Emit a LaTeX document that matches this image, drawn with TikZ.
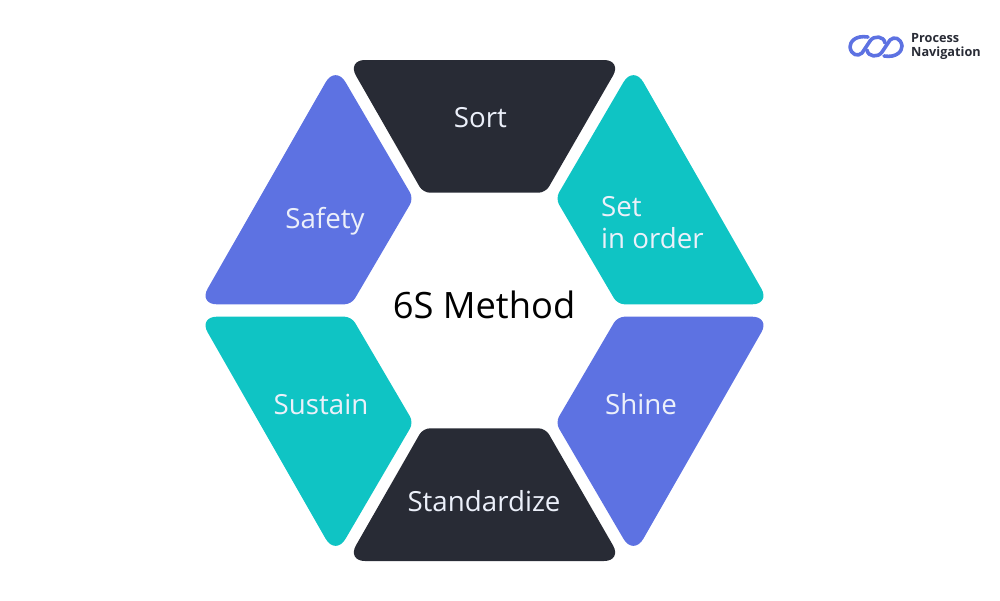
\documentclass[tikz,border=0pt]{standalone}
\usepackage{fontspec}
\setmainfont{Open Sans}
\definecolor{darkpanel}{HTML}{282B35}
\definecolor{bluepanel}{HTML}{5D72E2}
\definecolor{tealpanel}{HTML}{0FC4C4}
\definecolor{paneltext}{HTML}{ECF0FA}
\tikzset{
  paneltxt/.style={text=paneltext,font=\fontsize{27.7}{32}\selectfont,inner sep=0pt},
  logoline/.style={draw=bluepanel,line width=3.6pt,line cap=round,line join=round}
}
\begin{document}
\begin{tikzpicture}[x=1pt,y=-1pt]
\useasboundingbox (0,0) rectangle (1000,600);
% panels
\fill[darkpanel] (347,60) [rounded corners=18pt] -- (622,60) [rounded corners=7pt] -- (545.5,192.7) -- (423,192.7) [rounded corners=18pt] -- cycle;
\fill[darkpanel] (347,561) [rounded corners=18pt] -- (622,561) [rounded corners=7pt] -- (545.5,428.3) -- (423,428.3) [rounded corners=18pt] -- cycle;
\fill[bluepanel] (198.7,304.3) [rounded corners=20pt] -- (335.5,65) [rounded corners=7pt] -- (413.5,198.5) -- (351.5,304.3) [rounded corners=18pt] -- cycle;
\fill[tealpanel] (770.3,304.3) [rounded corners=20pt] -- (633.5,65) [rounded corners=7pt] -- (555.5,198.5) -- (617.5,304.3) [rounded corners=18pt] -- cycle;
\fill[tealpanel] (198.7,316.7) [rounded corners=20pt] -- (335.5,556) [rounded corners=7pt] -- (413.5,422.5) -- (351.5,316.7) [rounded corners=18pt] -- cycle;
\fill[bluepanel] (770.3,316.7) [rounded corners=20pt] -- (633.5,556) [rounded corners=7pt] -- (555.5,422.5) -- (617.5,316.7) [rounded corners=18pt] -- cycle;
% labels
\node[paneltxt] (sort) at (480.5,118) {Sort};
\node[paneltxt] (safety) at (325,221) {Safety};
\node[paneltxt,align=left,anchor=west] (setorder) at (601,222.5) {Set\\in order};
\node[paneltxt] (sustain) at (321,404.5) {Sustain};
\node[paneltxt] (shine) at (641,404) {Shine};
\node[paneltxt] (standardize) at (484,501) {Standardize};
\node[font=\fontsize{36.3}{40}\selectfont,inner sep=0pt] (method) at (484,305) {6S Method};
% logo
\foreach \ang in {0,180} {
\begin{scope}[rotate around={\ang:(876,46.5)}]
\draw[logoline] (868,37) .. controls (855,35) and (850,42) .. (850,47) .. controls (851,55) and (858,57) .. (862,53) -- (870,41) .. controls (874,35) and (884,36) .. (885,43);
\end{scope}
}
\node[font=\fontsize{12.7}{14}\selectfont\bfseries,align=left,anchor=west,inner sep=0pt,text=darkpanel] (brand) at (911,46.5) {Process\\Navigation};
\end{tikzpicture}
\end{document}
